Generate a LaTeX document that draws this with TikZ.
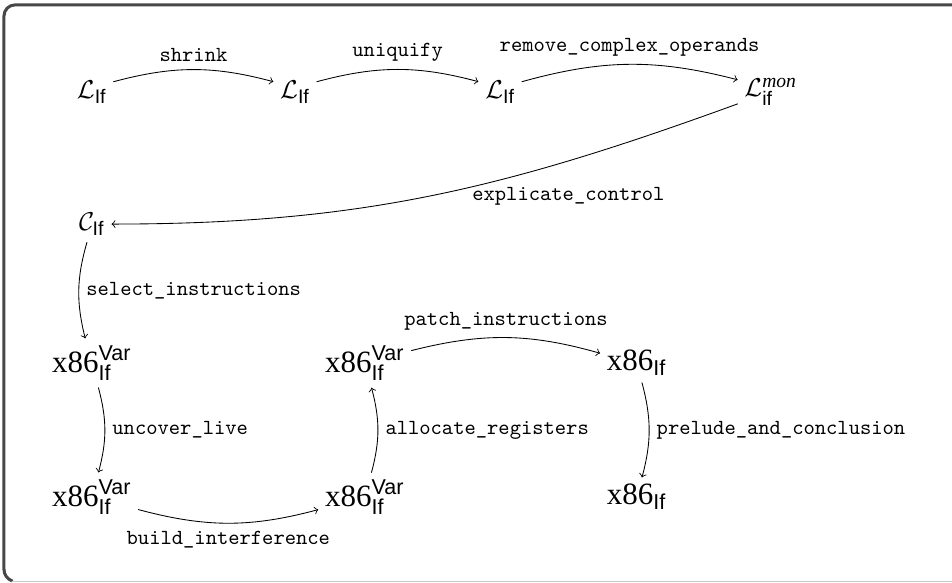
\documentclass[tikz,border=0pt]{standalone}
\usepackage{amsmath}
\usepackage{fontspec}
\setmainfont{Liberation Serif}
\setsansfont{Liberation Sans}
\tikzset{
  lang/.style={font=\fontsize{13}{15}\selectfont, inner sep=3pt},
  asm/.style={font=\Large, inner sep=3pt},
  pass/.style={font=\ttfamily\normalsize}
}
\begin{document}
\begin{tikzpicture}[>=to, line join=round, line cap=round]
	\useasboundingbox (0,0) rectangle (15.55,-9.52);
	% frame
	\draw[line width=1.4pt, black!72] (0.065,-9.30) -- (0.065,-0.26) arc[start angle=180, end angle=90, radius=0.18] -- (15.60,-0.08);
	\draw[line width=1.4pt, black!72] (0.065,-9.30) arc[start angle=180, end angle=250, radius=0.2];
	\draw[line width=0.8pt, black!22] (0.20,-9.50) -- (15.60,-9.50);
	% languages
	\node[lang] (Lone) at (1.50,-1.50) {$\mathcal{L}_{\textsf{If}}$};
	\node[lang] (Ltwo) at (4.82,-1.50) {$\mathcal{L}_{\textsf{If}}$};
	\node[lang] (Lthree) at (8.17,-1.50) {$\mathcal{L}_{\textsf{If}}$};
	\node[lang] (Lmon) at (12.59,-1.50) {$\mathcal{L}_{\textsf{if}}^{\textit{mon}}$};
	\node[lang] (Cif) at (1.50,-3.66) {$\mathcal{C}_{\textsf{If}}$};
	\node[asm] (xvarA) at (1.50,-5.93) {$\text{x86}^{\textsf{Var}}_{\textsf{If}}$};
	\node[asm] (xvarB) at (1.50,-8.12) {$\text{x86}^{\textsf{Var}}_{\textsf{If}}$};
	\node[asm] (xvarC) at (5.96,-5.93) {$\text{x86}^{\textsf{Var}}_{\textsf{If}}$};
	\node[asm] (xvarD) at (5.96,-8.12) {$\text{x86}^{\textsf{Var}}_{\textsf{If}}$};
	\node[asm] (xifA) at (10.40,-5.93) {$\text{x86}_{\textsf{If}}$};
	\node[asm] (xifB) at (10.40,-8.12) {$\text{x86}_{\textsf{If}}$};
	% passes
	\draw[->] (Lone.25) to[bend left=15] node[pass, above] {shrink} (Ltwo.155);
	\draw[->] (Ltwo.25) to[bend left=15] node[pass, above] {uniquify} (Lthree.155);
	\draw[->] (Lthree.25) to[bend left=15] node[pass, above] {remove\_complex\_operands} (Lmon.160);
	\draw[->] (Lmon) to[out=200, in=0] node[pass, below right, pos=0.44, yshift=4pt] {explicate\_control} (Cif);
	\draw[->] (Cif) to[bend right=15] node[pass, right] {select\_instructions} (xvarA);
	\draw[->] (xvarA) to[bend left=15] node[pass, right] {uncover\_live} (xvarB);
	\draw[->] (xvarB) to[bend right=15] node[pass, below] {build\_interference} (xvarD);
	\draw[->] (xvarD) to[bend right=15] node[pass, right] {allocate\_registers} (xvarC);
	\draw[->] (xvarC) to[bend left=15] node[pass, above] {patch\_instructions} (xifA);
	\draw[->] (xifA) to[bend left=15] node[pass, right] {prelude\_and\_conclusion} (xifB);
\end{tikzpicture}
\end{document}
